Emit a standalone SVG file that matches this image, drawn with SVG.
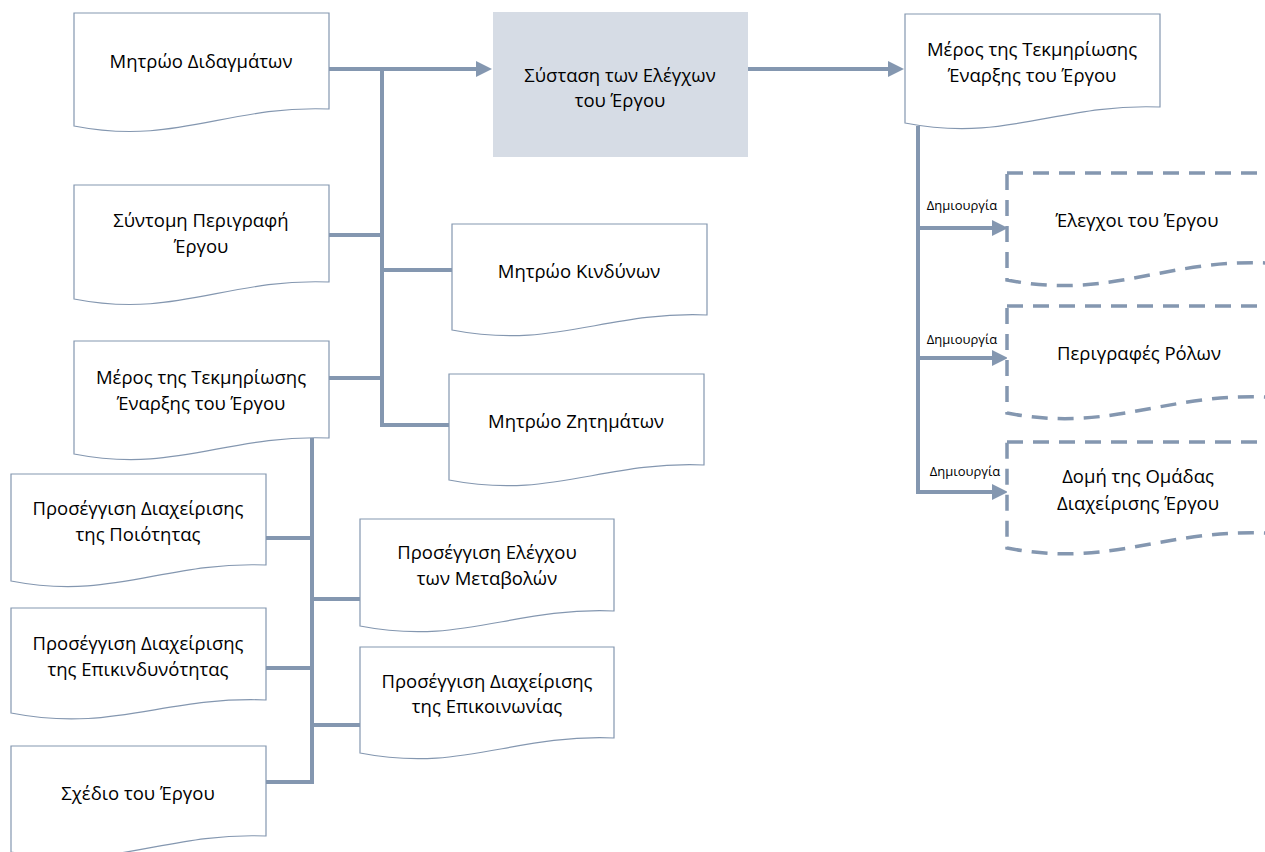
<svg xmlns="http://www.w3.org/2000/svg" width="1265" height="852" viewBox="0 0 1265 852">
  <style>
    .doc { fill: #ffffff; stroke: #8497B0; stroke-width: 1.2; }
    .ddoc { fill: #ffffff; stroke: #8497B0; stroke-width: 3.5; stroke-dasharray: 16 10; }
    .proc { fill: #D6DCE5; stroke: none; }
    .lbl { font-family: "Open Sans", "Liberation Sans", sans-serif; font-size: 18.5px; fill: #000000; text-anchor: middle; }
    .small { font-family: "Open Sans", "Liberation Sans", sans-serif; font-size: 13px; fill: #000000; text-anchor: middle; }
    .wire { fill: none; stroke: #8497B0; stroke-width: 4; stroke-linejoin: miter; }
  </style>
  <defs>
    <marker id="arrow" markerUnits="userSpaceOnUse" markerWidth="16" markerHeight="16" refX="0" refY="8" orient="auto">
      <path d="M0,0 L16,8 L0,16 Z" fill="#8497B0"/>
    </marker>
  </defs>

  <!-- connectors -->
  <g id="connectors">
    <path class="wire" d="M329,69 H476" marker-end="url(#arrow)"/>
    <path class="wire" d="M748,69 H888" marker-end="url(#arrow)"/>
    <path class="wire" d="M382,69 V425 H449"/>
    <path class="wire" d="M329,235 H382"/>
    <path class="wire" d="M382,270 H452"/>
    <path class="wire" d="M329,378 H382"/>
    <path class="wire" d="M312,438 V782 H266"/>
    <path class="wire" d="M266,538 H312"/>
    <path class="wire" d="M312,599 H360"/>
    <path class="wire" d="M266,668 H312"/>
    <path class="wire" d="M312,725 H360"/>
    <path class="wire" d="M918,126 V492 H992" marker-end="url(#arrow)"/>
    <path class="wire" d="M918,228 H992" marker-end="url(#arrow)"/>
    <path class="wire" d="M918,358 H992" marker-end="url(#arrow)"/>
    <text class="small" x="962" y="210">Δημιουργία</text>
    <text class="small" x="962" y="344">Δημιουργία</text>
    <text class="small" x="965" y="476">Δημιουργία</text>
  </g>

  <!-- input documents -->
  <g id="lessons-log">
    <path class="doc" d="M74,13 H329 V109 C227,105 176,146 74,126 Z"/>
    <text class="lbl" x="201" y="68">Μητρώο Διδαγμάτων</text>
  </g>
  <g id="project-brief">
    <path class="doc" d="M74,185 H329 V282 C227,278 176,319 74,299 Z"/>
    <text class="lbl" x="201" y="227">Σύντομη Περιγραφή</text>
    <text class="lbl" x="201" y="253">Έργου</text>
  </g>
  <g id="pid-part-in">
    <path class="doc" d="M74,341 H329 V438 C227,434 176,474 74,454 Z"/>
    <text class="lbl" x="201" y="384">Μέρος της Τεκμηρίωσης</text>
    <text class="lbl" x="201" y="410">Έναρξης του Έργου</text>
  </g>
  <g id="risk-register">
    <path class="doc" d="M452,224 H707 V315 C605,311 554,350 452,330 Z"/>
    <text class="lbl" x="579" y="278">Μητρώο Κινδύνων</text>
  </g>
  <g id="issue-register">
    <path class="doc" d="M449,374 H704 V465 C602,461 551,500 449,480 Z"/>
    <text class="lbl" x="576" y="428">Μητρώο Ζητημάτων</text>
  </g>
  <g id="quality-approach">
    <path class="doc" d="M11,474 H266 V565 C164,561 113,601 11,581 Z"/>
    <text class="lbl" x="138" y="515">Προσέγγιση Διαχείρισης</text>
    <text class="lbl" x="138" y="541">της Ποιότητας</text>
  </g>
  <g id="risk-approach">
    <path class="doc" d="M11,608 H266 V700 C164,696 113,733 11,713 Z"/>
    <text class="lbl" x="138" y="650">Προσέγγιση Διαχείρισης</text>
    <text class="lbl" x="138" y="676">της Επικινδυνότητας</text>
  </g>
  <g id="project-plan">
    <path class="doc" d="M11,746 H266 V836 C164,832 113,872 11,852 Z"/>
    <text class="lbl" x="138" y="800">Σχέδιο του Έργου</text>
  </g>
  <g id="change-approach">
    <path class="doc" d="M360,519 H614 V611 C512,607 462,646 360,626 Z"/>
    <text class="lbl" x="487" y="559">Προσέγγιση Ελέγχου</text>
    <text class="lbl" x="487" y="585">των Μεταβολών</text>
  </g>
  <g id="comms-approach">
    <path class="doc" d="M360,647 H614 V738 C512,734 462,773 360,753 Z"/>
    <text class="lbl" x="487" y="688">Προσέγγιση Διαχείρισης</text>
    <text class="lbl" x="487" y="713">της Επικοινωνίας</text>
  </g>

  <!-- activity -->
  <g id="set-up-controls">
    <rect class="proc" x="493" y="12" width="255" height="145"/>
    <text class="lbl" x="620" y="82">Σύσταση των Ελέγχων</text>
    <text class="lbl" x="620" y="107">του Έργου</text>
  </g>

  <!-- output documents -->
  <g id="pid-part-out">
    <path class="doc" d="M905,14 H1160 V107 C1058,103 1007,143 905,123 Z"/>
    <text class="lbl" x="1032" y="56">Μέρος της Τεκμηρίωσης</text>
    <text class="lbl" x="1032" y="82">Έναρξης του Έργου</text>
  </g>
  <g id="project-controls">
    <path class="ddoc" d="M1007,173 H1267 V263 C1163,259 1111,300 1007,280 Z"/>
    <text class="lbl" x="1137" y="227">Έλεγχοι του Έργου</text>
  </g>
  <g id="role-descriptions">
    <path class="ddoc" d="M1007,306 H1267 V397 C1163,393 1111,433 1007,413 Z"/>
    <text class="lbl" x="1139" y="360">Περιγραφές Ρόλων</text>
  </g>
  <g id="team-structure">
    <path class="ddoc" d="M1007,442 H1267 V533 C1163,529 1111,568 1007,548 Z"/>
    <text class="lbl" x="1138" y="483">Δομή της Ομάδας</text>
    <text class="lbl" x="1138" y="510">Διαχείρισης Έργου</text>
  </g>
</svg>
